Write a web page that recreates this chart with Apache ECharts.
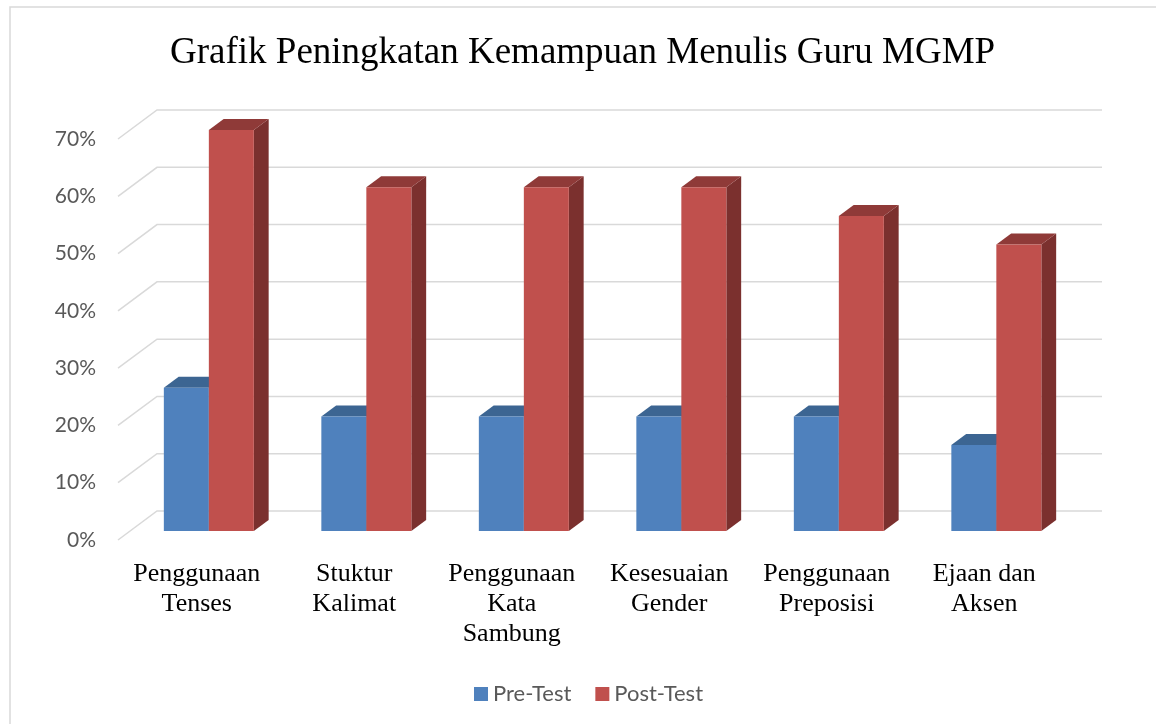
<!DOCTYPE html>
<html>
<head>
<meta charset="utf-8">
<script src="https://cdn.jsdelivr.net/npm/echarts@6/dist/echarts.min.js"></script>
<style>html,body{margin:0;padding:0;background:#fff}#c{width:1156px;height:724px}</style>
</head>
<body>
<div id="c"></div>
<script>
const categories = ['Penggunaan\nTenses', 'Stuktur\nKalimat', 'Penggunaan\nKata\nSambung', 'Kesesuaian\nGender', 'Penggunaan\nPreposisi', 'Ejaan dan\nAksen'];
const preTest = [0.25, 0.20, 0.20, 0.20, 0.20, 0.15];
const postTest = [0.70, 0.60, 0.60, 0.60, 0.55, 0.50];
const yTicks = [0, 0.1, 0.2, 0.3, 0.4, 0.5, 0.6, 0.7];

const DX = 39, DY = -29;       // floor depth vector
const F_FRONT = 0.31, F_DEPTH = 0.38;
const BAR_FRAC = 45 / 157.5;

function barRender(side, front, top, sideCol) {
  return function (params, api) {
    const i = api.value(0), v = api.value(1);
    const c0 = api.coord([i, 0]);
    const c1 = api.coord([i, v]);
    const band = api.size([1, 0])[0];
    const w = band * BAR_FRAC;
    const fx = c0[0] + F_FRONT * DX;
    const bottom = c0[1] + F_FRONT * DY;
    const topY = c1[1] + F_FRONT * DY;
    const left = side === 0 ? fx - w : fx;
    const dx = F_DEPTH * DX, dy = F_DEPTH * DY;
    return {
      type: 'group',
      children: [
        { type: 'polygon', shape: { points: [[left + w, topY], [left + w + dx, topY + dy], [left + w + dx, bottom + dy], [left + w, bottom]] }, style: { fill: sideCol } },
        { type: 'polygon', shape: { points: [[left, topY], [left + w, topY], [left + w + dx, topY + dy], [left + dx, topY + dy]] }, style: { fill: top } },
        { type: 'rect', shape: { x: left, y: topY, width: w, height: bottom - topY }, style: { fill: front } }
      ]
    };
  };
}

const chart = echarts.init(document.getElementById('c'));
chart.setOption({
  animation: false,
  backgroundColor: '#fff',
  graphic: [{ type: 'rect', shape: { x: 10, y: 7, width: 1160, height: 730 }, style: { fill: 'none', stroke: '#d9d9d9', lineWidth: 1.5 }, z: -10 }],
  title: {
    text: 'Grafik Peningkatan Kemampuan Menulis Guru MGMP',
    left: 165, top: 30,
    textStyle: { fontFamily: 'Liberation Serif', fontSize: 37, fontWeight: 'normal', color: '#000' }
  },
  legend: {
    left: 469, top: 678,
    itemWidth: 14, itemHeight: 14, itemGap: 24,
    icon: 'rect',
    textStyle: { fontFamily: 'Lato', fontSize: 22, color: '#595959' },
    data: ['Pre-Test', 'Post-Test']
  },
  grid: { left: 118, right: 93, top: 139, bottom: 184 },
  xAxis: {
    type: 'category', data: categories,
    axisLine: { show: false }, axisTick: { show: false },
    axisLabel: { interval: 0, margin: 19, fontFamily: 'Liberation Serif', fontSize: 26, lineHeight: 30, color: '#000' }
  },
  yAxis: {
    type: 'value', min: 0, max: 0.7, interval: 0.1,
    axisLine: { show: false }, axisTick: { show: false }, splitLine: { show: false },
    axisLabel: { margin: 22, fontFamily: 'Lato', fontSize: 21, color: '#595959', padding: [10, 0, 0, 0], formatter: v => Math.round(v * 100) + '%' }
  },
  series: [
    {
      type: 'custom', name: 'grid', silent: true, z: 1,
      data: yTicks.map(v => [0, v]),
      renderItem: function (params, api) {
        const cs = params.coordSys;
        const y = api.coord([0, api.value(1)])[1];
        const x0 = cs.x;
        const x1 = cs.x + cs.width;
        return { type: 'polyline', shape: { points: [[x0, y], [x0 + DX, y + DY], [x1 + DX, y + DY]] }, style: { stroke: '#d9d9d9', lineWidth: 1.5, fill: 'none' } };
      }
    },
    {
      type: 'custom', name: 'Pre-Test', z: 2,
      itemStyle: { color: '#4f81bd' },
      data: preTest.map((v, i) => [i, v]),
      renderItem: barRender(0, '#4f81bd', '#3c6592', '#385d8a')
    },
    {
      type: 'custom', name: 'Post-Test', z: 3,
      itemStyle: { color: '#c0504d' },
      data: postTest.map((v, i) => [i, v]),
      renderItem: barRender(1, '#c0504d', '#8f3a38', '#7b302e')
    }
  ]
});
</script>
</body>
</html>
